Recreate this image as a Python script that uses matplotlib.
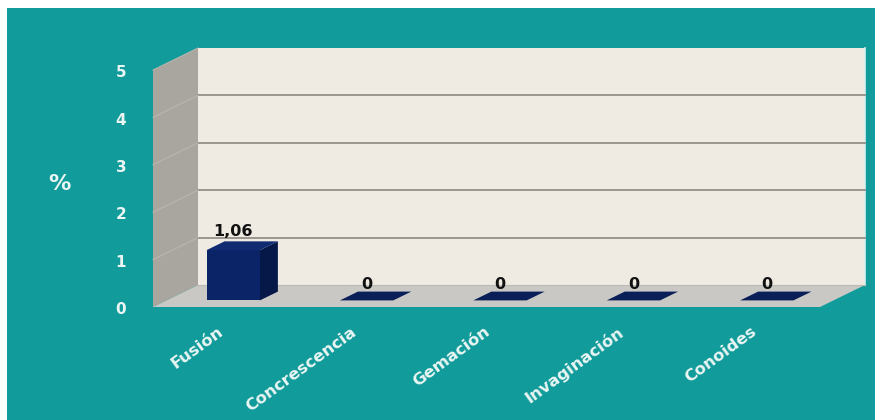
import matplotlib
matplotlib.use("Agg")
import matplotlib.pyplot as plt
from matplotlib.patches import Polygon, Rectangle

# ---- data ----
categories = ["Fusión", "Concrescencia", "Gemación", "Invaginación", "Conoides"]
values = [1.06, 0, 0, 0, 0]
value_labels = ["1,06", "0", "0", "0", "0"]
yticks = [0, 1, 2, 3, 4, 5]
ylabel = "%"

# ---- style / layout ----
TEAL = "#119b9a"
WALL_BACK = "#efebe3"
WALL_LEFT = "#a9a59f"
FLOOR = "#c9c8c5"
GRID = "#948f88"
BAR_FRONT = "#0b2468"
BAR_SIDE = "#061848"
BAR_TOP = "#102b72"
BAR_ZERO = "#0a1f58"
TXT = "#eaf6f4"

W, H = 875, 420
fig = plt.figure(figsize=(W / 100, H / 100), dpi=100)
fig.patch.set_facecolor("white")
fig.patches.append(Rectangle((7 / W, 0), 1, (H - 8) / H, transform=fig.transFigure,
                             facecolor=TEAL, edgecolor="none", zorder=-10))

ax = fig.add_axes([0, 0, 1, 1])
ax.set_zorder(1)
ax.set_axis_off()
ax.patch.set_alpha(0)

n = len(categories)
vmax = yticks[-1]
# pixel anchors of the front plane
px_left, px_right = 153, 820          # category axis front edge
px_base, px_per_v = 307, 47.4         # value 0 (from top) and pixels per unit
ux = (px_right - px_left) / n
ax.set_xlim(-px_left / ux, (W - px_left) / ux)
ax.set_ylim(-(H - px_base) / px_per_v, px_base / px_per_v)

DDX = 45 / ux          # depth shift in x data units
DDY = 22 / px_per_v    # depth shift in value units


def P(x, v, d):
    return (x + d * DDX, v + d * DDY)


def poly(pts, fc, z, ec="none", lw=0):
    ax.add_patch(Polygon(pts, closed=True, facecolor=fc, edgecolor=ec, lw=lw, zorder=z))


# walls and floor
poly([P(0, 0, 1), P(n, 0, 1), P(n, vmax, 1), P(0, vmax, 1)], WALL_BACK, 1)
poly([P(0, 0, 0), P(0, 0, 1), P(0, vmax, 1), P(0, vmax, 0)], WALL_LEFT, 1)
poly([P(0, 0, 0), P(n, 0, 0), P(n, 0, 1), P(0, 0, 1)], FLOOR, 1)
# right edge highlight of back wall
ax.plot(*zip(P(n, 0, 1), P(n, vmax, 1)), color="#d8f0ee", lw=1.2, zorder=2)

# gridlines
for t in yticks[1:-1]:
    ax.plot(*zip(P(0, t, 1), P(n, t, 1)), color=GRID, lw=1.3, zorder=2)
for t in yticks[1:]:
    ax.plot(*zip(P(0, t, 0), P(0, t, 1)), color="#bbb7b1", lw=0.7, zorder=2)
ax.plot(*zip(P(0, 0, 1), P(n, 0, 1)), color="#bdbab4", lw=0.8, zorder=2)

# bars
bw = 0.4
d0, d1 = 0.3, 0.7
for i, (h, lab) in enumerate(zip(values, value_labels)):
    xc = i + 0.5
    x0, x1 = xc - bw / 2, xc + bw / 2
    if h > 0:
        poly([P(x1, 0, d0), P(x1, 0, d1), P(x1, h, d1), P(x1, h, d0)], BAR_SIDE, 3)
        poly([P(x0, 0, d0), P(x1, 0, d0), P(x1, h, d0), P(x0, h, d0)], BAR_FRONT, 3)
        top_c = BAR_TOP
    else:
        top_c = BAR_ZERO
    poly([P(x0, h, d0), P(x1, h, d0), P(x1, h, d1), P(x0, h, d1)], top_c, 4)
    lx, ly = P(xc, h, d0)
    ax.annotate(lab, (lx, ly), xytext=(0, 8 if h > 0 else 6), textcoords="offset points",
                ha="center", va="bottom", fontsize=11.5, fontweight="bold",
                color="#111111", zorder=6)

# value axis tick labels
for t in yticks:
    ax.annotate(str(t), (-0.24, t), xytext=(0, -2), textcoords="offset points",
                ha="center", va="center", fontsize=11,
                fontweight="bold", color=TXT, zorder=6)
ax.text(-0.7, 2.6, ylabel, ha="center", va="center", fontsize=16,
        fontweight="bold", color=TXT, zorder=6)

# category labels
for i, c in enumerate(categories):
    ax.text(i + 0.48, -0.36, c, rotation=36, rotation_mode="anchor",
            ha="right", va="top", fontsize=11.8, fontweight="semibold",
            color=TXT, zorder=6)

fig.savefig("out.png", dpi=100, facecolor=fig.get_facecolor())
